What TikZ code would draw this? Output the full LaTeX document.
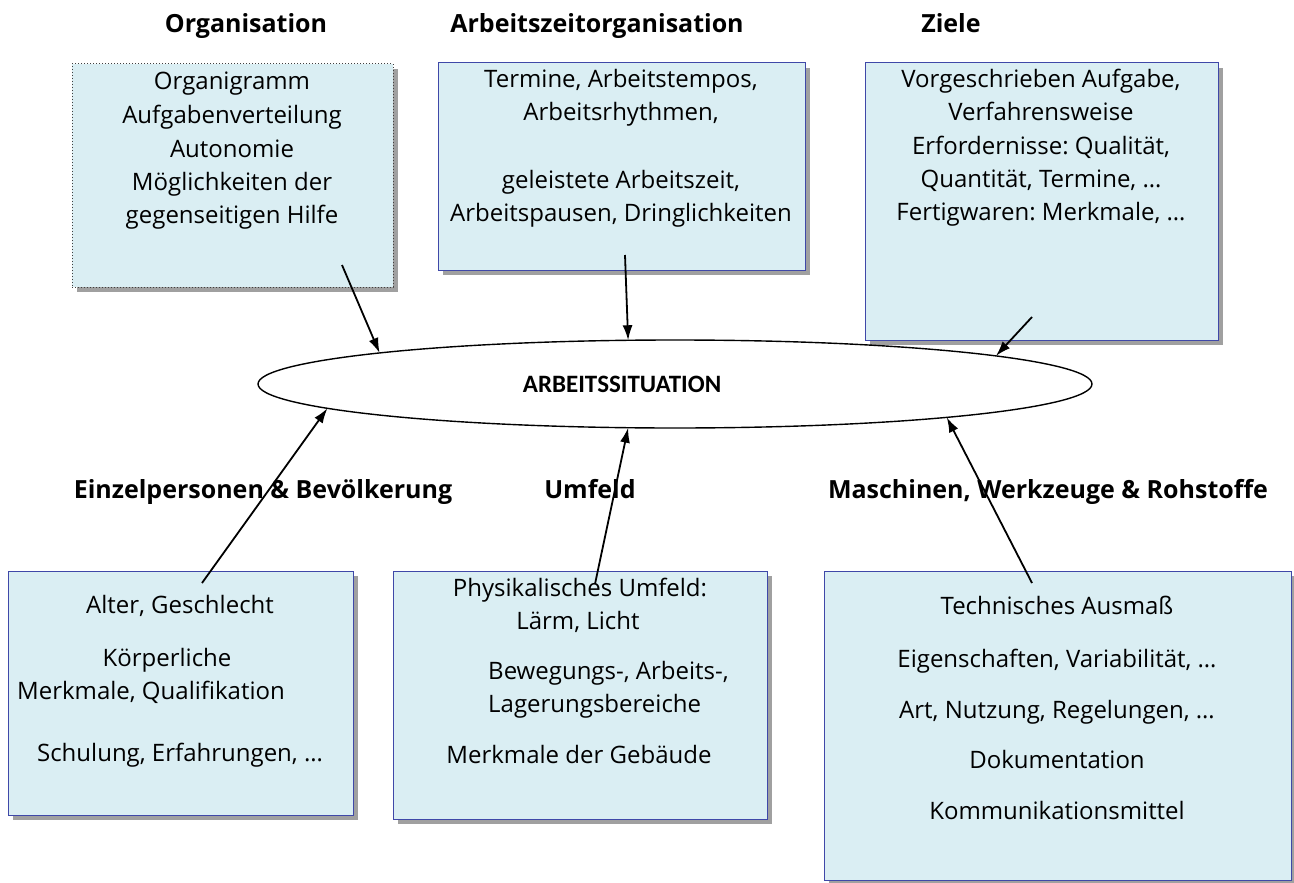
\documentclass[tikz,border=0pt]{standalone}
\usepackage{fontspec}
\setmainfont{Open Sans}
\newfontfamily\carl{Carlito}
\usetikzlibrary{shapes.geometric,shadows,arrows.meta}
\definecolor{boxfill}{HTML}{DAEEF3}
\definecolor{boxline}{HTML}{3F48A8}
\definecolor{shadegray}{HTML}{A0A0A0}
\frenchspacing
\tikzset{
  box/.style={draw=boxline, line width=1pt, fill=boxfill, anchor=north west, inner sep=0pt, outer sep=0pt,
    drop shadow={shadow xshift=5pt, shadow yshift=-5pt, fill=shadegray, opacity=1}},
  dotbox/.style={box, draw=black!75, dotted},
  bt/.style={font=\fontsize{24}{28}\selectfont, anchor=base, inner sep=0pt},
  hd/.style={font=\bfseries\fontsize{25}{30}\selectfont, anchor=base, inner sep=0pt},
  arr/.style={line width=1.8pt, -{Latex[length=15pt,width=10pt]}}
}
\begin{document}
\begin{tikzpicture}[x=1pt,y=-1pt]
\useasboundingbox (0,0) rectangle (1294,883);
\fill[white] (0,0) rectangle (1294,883);

% headings
\node[hd] (h1) at (246,33) {Organisation};
\node[hd] (h2) at (597,33) {Arbeitszeitorganisation};
\node[hd] (h3) at (951,33) {Ziele};
\node[hd] (h4) at (263,498) {Einzelpersonen \& Bevölkerung};
\node[hd] (h5) at (590,498) {Umfeld};
\node[hd] (h6) at (1048,498) {Maschinen, Werkzeuge \& Rohstoffe};

% boxes
\node[dotbox, minimum width=321, minimum height=223] (b1) at (72,64) {};
\node[box, minimum width=367, minimum height=207] (b2) at (438,63) {};
\node[box, minimum width=353, minimum height=277] (b3) at (865,63) {};
\node[box, minimum width=345, minimum height=244] (b4) at (8,571) {};
\node[box, minimum width=374, minimum height=248] (b5) at (393,571) {};
\node[box, minimum width=467, minimum height=309] (b6) at (824,571) {};

% box 1 text
\node[bt] (t11) at (232,90) {Organigramm};
\node[bt] (t12) at (232,123) {Aufgabenverteilung};
\node[bt] (t13) at (232,157) {Autonomie};
\node[bt] (t14) at (232,190) {Möglichkeiten der};
\node[bt] (t15) at (232,223) {gegenseitigen Hilfe};
% box 2 text
\node[bt] (t21) at (621,88) {Termine, Arbeitstempos,};
\node[bt] (t22) at (621,121) {Arbeitsrhythmen,};
\node[bt] (t23) at (621,188) {geleistete Arbeitszeit,};
\node[bt] (t24) at (621,221) {Arbeitspausen, Dringlichkeiten};
% box 3 text
\node[bt] (t31) at (1041,88) {Vorgeschrieben Aufgabe,};
\node[bt] (t32) at (1041,121) {Verfahrensweise};
\node[bt] (t33) at (1041,154) {Erfordernisse: Qualität,};
\node[bt] (t34) at (1041,187) {Quantität, Termine, …};
\node[bt] (t35) at (1041,220) {Fertigwaren: Merkmale, …};
% box 4 text
\node[bt] (t41) at (180,613) {Alter, Geschlecht};
\node[bt] (t42) at (167,666) {Körperliche};
\node[bt] (t43) at (151,699) {Merkmale, Qualifikation};
\node[bt] (t44) at (180,761) {Schulung, Erfahrungen, …};
% box 5 text
\node[bt] (t51) at (580,596) {Physikalisches Umfeld:};
\node[bt] (t52) at (578,629) {Lärm, Licht};
\node[bt, anchor=base west] (t53) at (488,679) {Bewegungs-, Arbeits-,};
\node[bt, anchor=base west] (t54) at (488,712) {Lagerungsbereiche};
\node[bt] (t55) at (579,763) {Merkmale der Gebäude};
% box 6 text
\node[bt] (t61) at (1057,614) {Technisches Ausmaß};
\node[bt] (t62) at (1057,667) {Eigenschaften, Variabilität, …};
\node[bt] (t63) at (1057,718) {Art, Nutzung, Regelungen, …};
\node[bt] (t64) at (1057,768) {Dokumentation};
\node[bt] (t65) at (1057,819) {Kommunikationsmittel};

% central ellipse
\node[draw, line width=1.4pt, ellipse, minimum width=834, minimum height=88, inner sep=0pt, outer sep=0pt] (sit) at (675,384) {};
\node[font=\carl\bfseries\fontsize{25}{28}\selectfont, inner sep=0pt] (sitlbl) at (622,384) {ARBEITSSITUATION};

% arrow start points
\coordinate (s1) at (342,265);
\coordinate (s2) at (625,255);
\coordinate (s3) at (1032,317);
\coordinate (s4) at (202,583);
\coordinate (s5) at (595,584);
\coordinate (s6) at (1032,583);

\draw[arr] (s1) -- (sit.174.7);
\draw[arr] (s2) -- (sit.137.8);
\draw[arr] (s3) -- (sit.5.4);
\draw[arr] (s4) -- (sit.-176);
\draw[arr] (s5) -- (sit.-137.7);
\draw[arr] (s6) -- (sit.-7.3);
\end{tikzpicture}
\end{document}
